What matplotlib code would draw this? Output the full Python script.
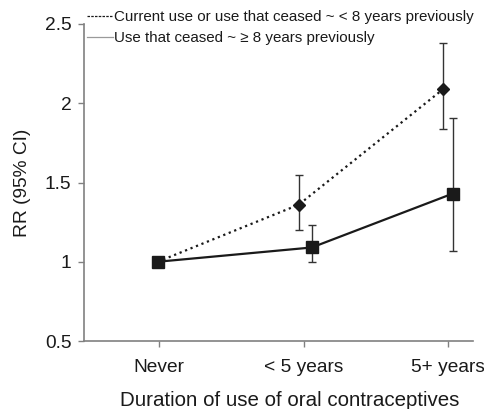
import matplotlib
matplotlib.use("Agg")
import matplotlib.pyplot as plt
from matplotlib.lines import Line2D
import numpy as np

plt.rcParams['font.family'] = ['Liberation Sans', 'DejaVu Sans']

categories = ["Never", "< 5 years", "5+ years"]
recent_rr = [1.0, 1.36, 2.09]
recent_lo = [1.0, 1.20, 1.84]
recent_hi = [1.0, 1.55, 2.38]
past_rr = [1.0, 1.09, 1.43]
past_lo = [1.0, 1.00, 1.07]
past_hi = [1.0, 1.23, 1.91]
legend_labels = ["Current use or use that ceased ~ < 8 years previously",
                 "Use that ceased ~ \u2265 8 years previously"]

fig = plt.figure(figsize=(4.85, 4.09), dpi=100)
ax = fig.add_axes([84/485, 1-341/409, (473-84)/485, (341-24)/409])

x = np.arange(len(categories))
x1 = x + np.array([-0.01, -0.035, -0.035])
x2 = x + np.array([-0.01, 0.055, 0.03])

rr1 = np.array(recent_rr); rr2 = np.array(past_rr)
err1 = [rr1 - np.array(recent_lo), np.array(recent_hi) - rr1]
err2 = [rr2 - np.array(past_lo), np.array(past_hi) - rr2]

ax.errorbar(x1[1:], rr1[1:], yerr=[e[1:] for e in err1], fmt='none',
            ecolor='#333333', elinewidth=1.0, capsize=3, capthick=1.0, zorder=2)
ax.errorbar(x2[1:], rr2[1:], yerr=[e[1:] for e in err2], fmt='none',
            ecolor='#333333', elinewidth=1.0, capsize=3, capthick=1.0, zorder=2)

ax.plot(x1, rr1, linestyle=':', color='#1a1a1a', linewidth=1.6, zorder=3)
ax.plot(x1[1:], rr1[1:], linestyle='none', marker='D', markersize=6,
        color='#1a1a1a', zorder=4)
ax.plot(x2, rr2, linestyle='-', color='#1a1a1a', linewidth=1.6,
        marker='s', markersize=8.5, zorder=5)

ax.set_xlim(-0.52, 2.17)
ax.set_ylim(0.5, 2.5)
ax.set_yticks([0.5, 1, 1.5, 2, 2.5])
ax.set_yticklabels(["0.5", "1", "1.5", "2", "2.5"])
ax.set_xticks(x)
ax.set_xticklabels(categories)

for s in ['top', 'right']:
    ax.spines[s].set_visible(False)
for s in ['left', 'bottom']:
    ax.spines[s].set_color('#808080')
    ax.spines[s].set_linewidth(1.2)
ax.tick_params(axis='both', colors='#808080', labelcolor='#1a1a1a',
               labelsize=13.8, length=4, width=1)
ax.tick_params(axis='x', pad=9)
ax.tick_params(axis='y', pad=5)

ax.set_ylabel("RR (95% CI)", fontsize=13.8, color='#1a1a1a', labelpad=10)
ax.set_xlabel("Duration of use of oral contraceptives", fontsize=14.8,
              color='#1a1a1a')
ax.xaxis.set_label_coords((290-84)/(473-84), -0.158)

handles = [Line2D([], [], linestyle=(0, (2, 1)), color='#1a1a1a', linewidth=0.9),
           Line2D([], [], linestyle='-', color='#9a9a9a', linewidth=0.9)]
fig.legend(handles, legend_labels, loc='upper left',
           bbox_to_anchor=(87/485, 1-10/409), frameon=False, fontsize=10.9,
           handlelength=1.75, handletextpad=0.05, borderpad=0, borderaxespad=0,
           labelspacing=0.45, labelcolor='#1a1a1a')

fig.savefig("out.png", dpi=100)
